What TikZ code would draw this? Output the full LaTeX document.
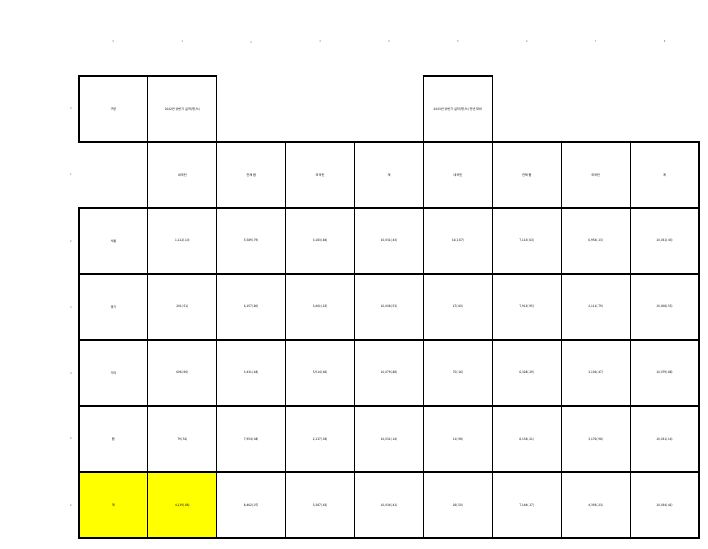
\documentclass[tikz,border=0pt]{standalone}
\usepackage{fontspec}
\newfontfamily\kr{Noto Sans CJK KR}
\begin{document}
\begin{tikzpicture}[x=1pt,y=-1pt,
  cellbox/.style={draw=black,line width=1.2pt,minimum width=68.9pt,minimum height=66pt,inner sep=0pt,font=\kr\fontsize{3.2}{3.6}\selectfont},
  blankcell/.style={cellbox,draw=none},
  hl/.style={fill={rgb,1:red,1;green,1;blue,0}},
  idx/.style={inner sep=0pt,text=black!60,font=\kr\fontsize{2.8}{3}\selectfont}]
\useasboundingbox (0,0) rectangle (708,548);
\newcommand{\tcell}[4][]{\node[cellbox,#1] (c#2#3) at ({79+68.89*(#3+0.5)},{76+66*(#2+0.5)}) {#4};}
% index labels
\foreach \i in {0,...,8}{\node[idx] (ci\i) at ({79+68.89*(\i+0.5)},42) {\i};}
\foreach \j in {0,...,6}{\node[idx] (ri\j) at (71,{76+66*(\j+0.5)}) {\j};}
% row 0
\tcell{0}{0}{구분}
\tcell{0}{1}{2022년 상반기 실적(명,\%)}
\tcell[blankcell]{0}{2}{}
\tcell[blankcell]{0}{3}{}
\tcell[blankcell]{0}{4}{}
\tcell{0}{5}{2023년 상반기 실적(명,\%) 전년 대비}
% row 1
\tcell[blankcell]{1}{0}{}
\tcell{1}{1}{내국인}
\tcell{1}{2}{전체 합}
\tcell{1}{3}{외국인}
\tcell{1}{4}{계}
\tcell{1}{5}{내국인}
\tcell{1}{6}{전체 합}
\tcell{1}{7}{외국인}
\tcell{1}{8}{계}
% row 2
\tcell{2}{0}{서울}
\tcell{2}{1}{1,112(.10)}
\tcell{2}{2}{5,589(.79)}
\tcell{2}{3}{3,183(.84)}
\tcell{2}{4}{10,031(.43)}
\tcell{2}{5}{31(1.87)}
\tcell{2}{6}{7,113(.63)}
\tcell{2}{7}{6,954(.13)}
\tcell{2}{8}{10,031(.43)}
% row 3
\tcell{3}{0}{경기}
\tcell{3}{1}{201(.51)}
\tcell{3}{2}{6,157(.80)}
\tcell{3}{3}{3,461(.23)}
\tcell{3}{4}{10,008(.53)}
\tcell{3}{5}{27(.60)}
\tcell{3}{6}{7,913(.95)}
\tcell{3}{7}{2,111(.79)}
\tcell{3}{8}{10,008(.53)}
% row 4
\tcell{4}{0}{기타}
\tcell{4}{1}{606(.96)}
\tcell{4}{2}{3,431(.48)}
\tcell{4}{3}{5,914(.66)}
\tcell{4}{4}{10,079(.88)}
\tcell{4}{5}{70(.16)}
\tcell{4}{6}{6,328(.29)}
\tcell{4}{7}{3,136(.47)}
\tcell{4}{8}{10,079(.88)}
% row 5
\tcell{5}{0}{합}
\tcell{5}{1}{79(.52)}
\tcell{5}{2}{7,954(.08)}
\tcell{5}{3}{2,137(.38)}
\tcell{5}{4}{10,031(.14)}
\tcell{5}{5}{11(.98)}
\tcell{5}{6}{8,154(.21)}
\tcell{5}{7}{3,176(.98)}
\tcell{5}{8}{10,031(.14)}
% row 6
\tcell[hl]{6}{0}{계}
\tcell[hl]{6}{1}{4,119(.86)}
\tcell{6}{2}{8,462(.07)}
\tcell{6}{3}{3,387(.43)}
\tcell{6}{4}{10,034(.41)}
\tcell{6}{5}{26(.50)}
\tcell{6}{6}{7,144(.17)}
\tcell{6}{7}{4,393(.23)}
\tcell{6}{8}{10,034(.41)}
\end{tikzpicture}
\end{document}
